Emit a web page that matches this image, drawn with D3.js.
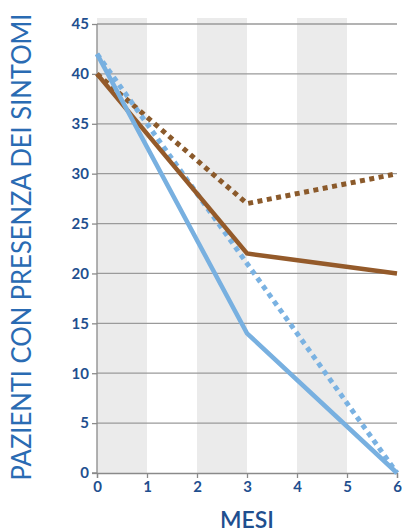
<!DOCTYPE html>
<html><head><meta charset="utf-8">
<script src="https://cdn.jsdelivr.net/npm/d3@7"></script>
<style>body{margin:0;background:#fff}svg{display:block}</style>
</head><body><svg id="c" width="402" height="532"></svg>
<script>
const months = [0, 3, 6];
const xTicks = [0, 1, 2, 3, 4, 5, 6];
const yTicks = [0, 5, 10, 15, 20, 25, 30, 35, 40, 45];
const blueSolid = [42, 14, 0];
const blueDotted = [42, 21, 0];
const brownSolid = [40, 22, 20];
const brownDotted = [40, 27, 30];
const bands = [0, 2, 4];

const svg = d3.select("#c");
const x = d3.scaleLinear().domain([0, 6]).range([97, 397]);
const y = d3.scaleLinear().domain([0, 45]).range([473, 24]);
const font = "Lato, 'Open Sans', sans-serif";
const tickCol = "#1f4f8f";

// bands
svg.selectAll("rect.band").data(bands).enter().append("rect")
  .attr("x", d => x(d)).attr("width", x(1) - x(0))
  .attr("y", y(45) - 6).attr("height", y(0) - y(45) + 6)
  .attr("fill", "#ebebeb");

// gridlines
svg.selectAll("line.grid").data(yTicks.filter(d => d > 0)).enter().append("line")
  .attr("x1", x(0)).attr("x2", x(6)).attr("y1", d => y(d)).attr("y2", d => y(d))
  .attr("stroke", "#9a9a9a").attr("stroke-width", 1.3);

// axes
const xAxis = d3.axisBottom(x).tickValues(xTicks).tickSize(5).tickPadding(3).tickFormat(d3.format("d"));
const gx = svg.append("g").attr("transform", `translate(0,${y(0)})`).call(xAxis);
const yAxis = d3.axisLeft(y).tickValues(yTicks).tickSize(5).tickPadding(3);
const gy = svg.append("g").attr("transform", `translate(${x(0)},0)`).call(yAxis);
[gx, gy].forEach(g => {
  g.select(".domain").attr("stroke", "#8a8a8a").attr("stroke-width", 1.3);
  g.selectAll(".tick line").attr("stroke", "#8a8a8a").attr("stroke-width", 1.3);
  g.selectAll(".tick text").attr("fill", tickCol).attr("font-family", font)
    .attr("font-size", 15).attr("font-weight", 700);
});
gy.select(".domain").attr("d", `M-5,${y(0)}H0V${y(45)}`);

// lines
const line = d3.line().x((d, i) => x(months[i])).y(d => y(d));
const series = [
  {v: brownDotted, c: "#8b5a2b", dash: "5,4.5", w: 5},
  {v: blueDotted, c: "#7ab2e2", dash: "5,4.5", w: 5},
  {v: brownSolid, c: "#945a2a", dash: null, w: 4.5},
  {v: blueSolid, c: "#78b0e0", dash: null, w: 4.5}
];
series.forEach(s => {
  svg.append("path").datum(s.v).attr("d", line)
    .attr("fill", "none").attr("stroke", s.c).attr("stroke-width", s.w)
    .attr("stroke-dasharray", s.dash).attr("stroke-linejoin", "miter");
});

// titles
svg.append("text").attr("x", 247).attr("y", 528).attr("text-anchor", "middle")
  .attr("font-family", font).attr("font-size", 23).attr("font-weight", 600)
  .attr("fill", tickCol).text("MESI");
svg.append("text").attr("transform", "translate(31,247) rotate(-90)")
  .attr("text-anchor", "middle").attr("font-family", font).attr("font-size", 26)
  .attr("textLength", 467).attr("lengthAdjust", "spacingAndGlyphs")
  .attr("fill", "#2a6bb3").text("PAZIENTI CON PRESENZA DEI SINTOMI");
</script></body></html>
